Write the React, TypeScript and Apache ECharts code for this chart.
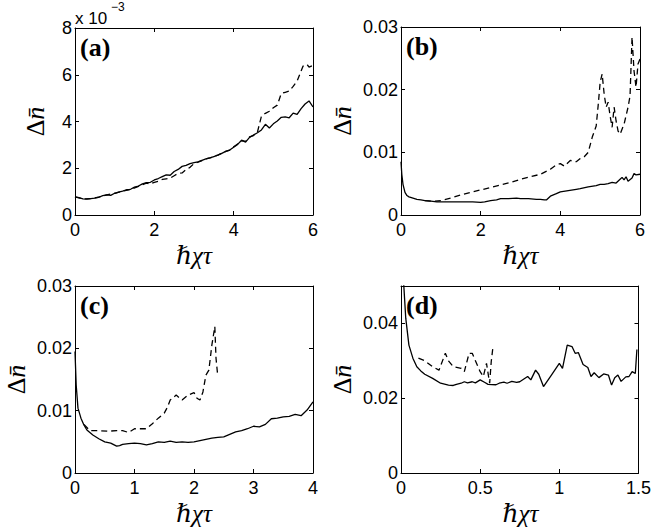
import React, { useEffect, useRef } from "react";
import * as echarts from "echarts";

// Panel (a): values in units of 1e-3
const aSolid: number[][] = [
  [0, 0.78], [0.1, 0.74], [0.2, 0.69], [0.3, 0.68], [0.4, 0.7], [0.5, 0.72], [0.6, 0.76], [0.7, 0.83],
  [0.8, 0.86], [0.9, 0.84], [1.0, 0.93], [1.1, 0.98], [1.2, 1.02], [1.3, 1.08], [1.4, 1.1], [1.5, 1.19],
  [1.6, 1.24], [1.7, 1.33], [1.8, 1.38], [1.9, 1.4], [2.0, 1.5], [2.1, 1.56], [2.2, 1.64], [2.3, 1.72],
  [2.4, 1.7], [2.5, 1.86], [2.6, 1.95], [2.7, 2.08], [2.8, 2.12], [2.9, 2.2], [3.0, 2.24], [3.1, 2.27],
  [3.2, 2.34], [3.3, 2.4], [3.4, 2.44], [3.5, 2.5], [3.6, 2.56], [3.7, 2.64], [3.8, 2.72], [3.9, 2.78],
  [4.0, 2.9], [4.1, 3.02], [4.2, 3.2], [4.3, 3.12], [4.4, 3.32], [4.5, 3.42], [4.6, 3.52], [4.7, 3.64],
  [4.8, 3.88], [4.9, 3.72], [5.0, 3.9], [5.1, 4.02], [5.2, 4.18], [5.3, 4.2], [5.4, 4.16], [5.5, 4.36],
  [5.6, 4.3], [5.7, 4.55], [5.8, 4.75], [5.9, 4.88], [6.0, 4.62],
];
const aDashed: number[][] = [
  [0, 0.78], [0.2, 0.69], [0.4, 0.7], [0.6, 0.76], [0.8, 0.86], [1.0, 0.93], [1.2, 1.02], [1.4, 1.1],
  [1.6, 1.22], [1.7, 1.3], [1.8, 1.36], [1.9, 1.33], [2.0, 1.4], [2.1, 1.44], [2.2, 1.52], [2.3, 1.55],
  [2.4, 1.58], [2.5, 1.68], [2.6, 1.78], [2.7, 1.8], [2.8, 1.94], [2.9, 2.04], [3.0, 2.2], [3.1, 2.26],
  [3.2, 2.33], [3.3, 2.4], [3.4, 2.44], [3.5, 2.5], [3.6, 2.56], [3.7, 2.64], [3.8, 2.72], [3.9, 2.78],
  [4.0, 2.92], [4.1, 3.04], [4.2, 3.18], [4.3, 3.15], [4.4, 3.34], [4.5, 3.4], [4.6, 3.55], [4.7, 4.23],
  [4.8, 4.35], [4.9, 4.44], [5.0, 4.59], [5.1, 4.7], [5.2, 5.2], [5.3, 5.25], [5.4, 5.3], [5.5, 5.5],
  [5.6, 5.73], [5.7, 6.16], [5.75, 6.37], [5.85, 6.44], [5.9, 6.33], [6.0, 6.4],
];

// Panel (b)
const bSolid: number[][] = [
  [0, 0.0085], [0.02, 0.0065], [0.05, 0.0049], [0.1, 0.0036], [0.15, 0.0031], [0.2, 0.0029],
  [0.3, 0.0027], [0.4, 0.0025], [0.5, 0.0024], [0.6, 0.0023], [0.75, 0.0022], [0.9, 0.0021],
  [1.0, 0.0021], [1.2, 0.0021], [1.4, 0.0021], [1.6, 0.0021], [1.8, 0.0021], [2.0, 0.002],
  [2.1, 0.0021], [2.25, 0.0023], [2.4, 0.0024], [2.5, 0.0026], [2.7, 0.0026], [2.9, 0.0027],
  [3.0, 0.0026], [3.2, 0.0026], [3.4, 0.0025], [3.5, 0.0025], [3.6, 0.0024], [3.65, 0.0024],
  [3.75, 0.003], [3.9, 0.0034], [4.0, 0.0037], [4.2, 0.0039], [4.4, 0.0041], [4.5, 0.0042],
  [4.7, 0.0045], [4.9, 0.0047], [5.0, 0.0049], [5.1, 0.0049], [5.2, 0.005], [5.3, 0.0052],
  [5.4, 0.0051], [5.5, 0.0057], [5.55, 0.006], [5.6, 0.0056], [5.65, 0.0061], [5.7, 0.0054],
  [5.8, 0.0059], [5.85, 0.0066], [5.9, 0.0064], [6.0, 0.0065],
];
const bDashed: number[][] = [
  [0.6, 0.0023], [0.8, 0.0022], [1.0, 0.0023], [1.25, 0.0027], [1.5, 0.0032], [1.75, 0.0036],
  [2.0, 0.004], [2.25, 0.0044], [2.5, 0.0048], [2.75, 0.0052], [3.0, 0.0057], [3.25, 0.0061],
  [3.5, 0.0065], [3.75, 0.0073], [3.9, 0.008], [4.0, 0.0082], [4.1, 0.0078], [4.25, 0.0087],
  [4.4, 0.0085], [4.5, 0.009], [4.6, 0.0093], [4.7, 0.01], [4.8, 0.0124], [4.9, 0.0142],
  [4.95, 0.0175], [5.0, 0.0212], [5.05, 0.0225], [5.1, 0.0193], [5.15, 0.0172], [5.2, 0.018],
  [5.25, 0.0158], [5.3, 0.014], [5.35, 0.0172], [5.4, 0.015], [5.45, 0.0134], [5.5, 0.0129],
  [5.6, 0.0145], [5.7, 0.0172], [5.75, 0.019], [5.8, 0.0284], [5.85, 0.023], [5.9, 0.0204],
  [5.95, 0.0241], [6.0, 0.0249],
];

// Panel (c)
const cSolid: number[][] = [
  [0, 0.0195], [0.02, 0.0141], [0.05, 0.0104], [0.1, 0.0088], [0.15, 0.0077], [0.2, 0.0069],
  [0.3, 0.0061], [0.4, 0.0055], [0.5, 0.005], [0.6, 0.0048], [0.7, 0.0043], [0.75, 0.0044],
  [0.8, 0.0046], [0.9, 0.0047], [1.0, 0.0048], [1.1, 0.0047], [1.2, 0.0045], [1.3, 0.0047],
  [1.4, 0.005], [1.5, 0.0049], [1.6, 0.0051], [1.7, 0.0049], [1.8, 0.005], [1.9, 0.0049],
  [2.0, 0.005], [2.1, 0.0052], [2.2, 0.0054], [2.3, 0.0056], [2.4, 0.0057], [2.5, 0.0058],
  [2.6, 0.0062], [2.7, 0.0066], [2.8, 0.0068], [2.9, 0.0071], [3.0, 0.0075], [3.1, 0.0074],
  [3.2, 0.0078], [3.3, 0.0087], [3.4, 0.0088], [3.5, 0.009], [3.6, 0.0091], [3.7, 0.0094],
  [3.8, 0.0092], [3.9, 0.0101], [4.0, 0.0114],
];
const cDashed: number[][] = [
  [0.15, 0.0078], [0.2, 0.0073], [0.25, 0.0068], [0.4, 0.0068], [0.55, 0.0067], [0.7, 0.0068],
  [0.8, 0.0068], [0.9, 0.0065], [1.0, 0.0071], [1.2, 0.0071], [1.3, 0.0079], [1.4, 0.0088],
  [1.5, 0.0096], [1.55, 0.0105], [1.6, 0.0117], [1.7, 0.0125], [1.8, 0.0117], [1.9, 0.0125],
  [2.0, 0.0129], [2.05, 0.012], [2.1, 0.0117], [2.15, 0.013], [2.2, 0.0157], [2.25, 0.0165],
  [2.3, 0.0205], [2.35, 0.0235], [2.37, 0.0184], [2.4, 0.0155],
];

// Panel (d)
const dSolid: number[][] = [
  [0.005, 0.062], [0.015, 0.052], [0.03, 0.0414], [0.05, 0.0342], [0.075, 0.0307], [0.1, 0.0284],
  [0.125, 0.0273], [0.15, 0.0264], [0.2, 0.0253], [0.25, 0.024], [0.3, 0.0235], [0.33, 0.0234],
  [0.35, 0.0237], [0.38, 0.024], [0.4, 0.0244], [0.42, 0.0241], [0.45, 0.0244], [0.47, 0.0241],
  [0.5, 0.0249], [0.53, 0.0242], [0.55, 0.0237], [0.6, 0.0236], [0.62, 0.024], [0.65, 0.0243],
  [0.67, 0.024], [0.7, 0.0245], [0.73, 0.0242], [0.75, 0.0244], [0.8, 0.0258], [0.82, 0.0249],
  [0.85, 0.0275], [0.87, 0.0264], [0.9, 0.0231], [0.95, 0.0262], [1.0, 0.0293], [1.02, 0.028],
  [1.05, 0.0342], [1.08, 0.0338], [1.1, 0.032], [1.12, 0.0322], [1.15, 0.029], [1.18, 0.0282],
  [1.2, 0.0258], [1.22, 0.0268], [1.25, 0.0255], [1.28, 0.0265], [1.31, 0.0262], [1.33, 0.0235],
  [1.35, 0.0255], [1.37, 0.0262], [1.39, 0.0245], [1.42, 0.0257], [1.44, 0.0258], [1.46, 0.0271],
  [1.48, 0.0266], [1.49, 0.033],
];
const dDashed: number[][] = [
  [0.11, 0.0307], [0.15, 0.03], [0.2, 0.0284], [0.24, 0.0275], [0.28, 0.032], [0.3, 0.03],
  [0.33, 0.0284], [0.38, 0.028], [0.4, 0.0271], [0.43, 0.032], [0.45, 0.032], [0.47, 0.03],
  [0.5, 0.0271], [0.52, 0.0258], [0.54, 0.0293], [0.56, 0.024], [0.57, 0.0298], [0.58, 0.0334],
];

const panelLabels = ["(a)", "(b)", "(c)", "(d)"];
const xRanges = [
  { min: 0, max: 6, interval: 2 },
  { min: 0, max: 6, interval: 2 },
  { min: 0, max: 4, interval: 1 },
  { min: 0, max: 1.5, interval: 0.5 },
];
const yRanges = [
  { min: 0, max: 8, interval: 2 },
  { min: 0, max: 0.03, interval: 0.01 },
  { min: 0, max: 0.03, interval: 0.01 },
  { min: 0, max: 0.05, interval: 0.02 },
];
const solidData = [aSolid, bSolid, cSolid, dSolid];
const dashedData = [aDashed, bDashed, cDashed, dDashed];

const grids = [
  { left: 75, top: 28, width: 238, height: 187 },
  { left: 401, top: 27, width: 239, height: 188 },
  { left: 75, top: 286, width: 238, height: 187 },
  { left: 401, top: 286, width: 239, height: 187 },
];

const SANS = "'Liberation Sans', Arial, sans-serif";
const SERIF = "'Liberation Serif', 'DejaVu Serif', serif";

export default function App() {
  const ref = useRef<HTMLDivElement>(null);
  useEffect(() => {
    if (!ref.current) return;
    const chart = echarts.init(ref.current, undefined, { renderer: "svg" });
    const lineColor = "#000";
    const xAxis: any[] = [];
    const yAxis: any[] = [];
    const series: any[] = [];
    const graphic: any[] = [];
    grids.forEach((g, i) => {
      const xr = xRanges[i];
      const yr = yRanges[i];
      const common = {
        type: "value",
        gridIndex: i,
        splitLine: { show: false },
        axisLine: { show: true, onZero: false, lineStyle: { color: lineColor, width: 1 } },
        axisTick: { show: true, inside: true, length: 4, lineStyle: { color: lineColor, width: 1 } },
      };
      xAxis.push({
        ...common,
        ...xr,
        position: "bottom",
        axisLabel: {
          show: true, color: "#000", fontSize: 18, fontFamily: SANS, margin: 6,
          formatter: (v: number) => String(+v.toFixed(3)),
        },
      });
      xAxis.push({ ...common, ...xr, position: "top", axisLabel: { show: false } });
      yAxis.push({
        ...common,
        ...yr,
        position: "left",
        axisLabel: {
          show: true, color: "#000", fontSize: 18, fontFamily: SANS, margin: 3,
          formatter: (v: number) => {
            const r = +v.toFixed(4);
            if (i === 3 && r === 0.05) return "";
            return String(r);
          },
        },
      });
      yAxis.push({ ...common, ...yr, position: "right", axisLabel: { show: false } });
      series.push({
        type: "line",
        xAxisIndex: 2 * i,
        yAxisIndex: 2 * i,
        data: dashedData[i],
        showSymbol: false,
        clip: true,
        lineStyle: { color: lineColor, width: 1.3, type: [6, 4] },
      });
      series.push({
        type: "line",
        xAxisIndex: 2 * i,
        yAxisIndex: 2 * i,
        data: solidData[i],
        showSymbol: false,
        clip: true,
        lineStyle: { color: lineColor, width: 1.3 },
      });
      // panel label
      graphic.push({
        type: "text",
        x: g.left + 5,
        y: g.top + 19,
        style: {
          text: panelLabels[i],
          font: `bold 26px ${SERIF}`,
          fill: "#000",
          textAlign: "left",
          textVerticalAlign: "middle",
        },
      });
      // y-axis title
      graphic.push({
        type: "text",
        x: i === 0 ? 35 : g.left - 59,
        y: g.top + g.height / 2,
        rotation: Math.PI / 2,
        style: {
          text: "{d|Δ}{n|n\u0304}",
          rich: {
            d: { font: `26px ${SERIF}`, fill: "#000" },
            n: { font: `italic 26px ${SERIF}`, fill: "#000" },
          },
          textAlign: "center",
          textVerticalAlign: "middle",
        },
      });
      // x-axis title
      graphic.push({
        type: "text",
        x: g.left + g.width / 2,
        y: g.top + g.height + 40,
        style: {
          text: "ℏχτ",
          font: `italic 25px ${SERIF}`,
          fill: "#000",
          textAlign: "center",
          textVerticalAlign: "middle",
        },
      });
    });
    // exponent for panel (a)
    graphic.push({
      type: "text",
      x: 75,
      y: 18,
      style: { text: "x 10", font: `17px ${SANS}`, fill: "#000", textAlign: "left", textVerticalAlign: "middle" },
    });
    graphic.push({
      type: "text",
      x: 111,
      y: 7,
      style: { text: "−3", font: `12px ${SANS}`, fill: "#000", textAlign: "left", textVerticalAlign: "middle" },
    });

    chart.setOption({
      animation: false,
      backgroundColor: "#fff",
      grid: grids.map((g) => ({ ...g, containLabel: false })),
      xAxis,
      yAxis,
      series,
      graphic,
    });
    return () => chart.dispose();
  }, []);
  return (
    <div
      ref={ref}
      style={{ position: "fixed", left: 0, top: 0, width: 654, height: 527, background: "#fff" }}
    />
  );
}
